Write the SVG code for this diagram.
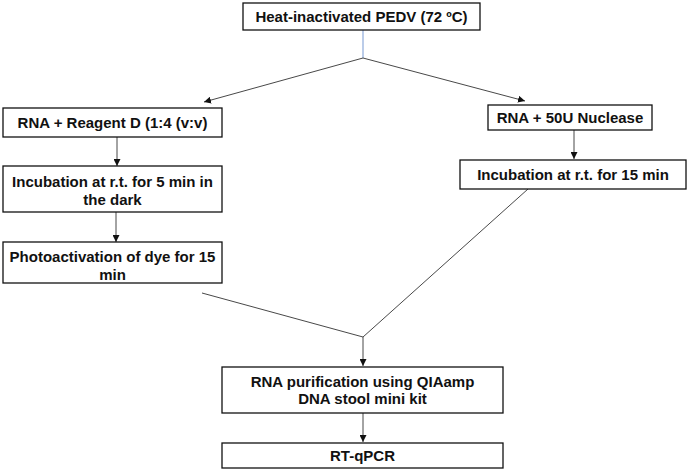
<svg xmlns="http://www.w3.org/2000/svg" width="689" height="472" viewBox="0 0 689 472">
<defs>
<marker id="ah" viewBox="0 0 10 10" refX="10" refY="5" markerWidth="7" markerHeight="7" markerUnits="userSpaceOnUse" orient="auto">
<path d="M0,0 L10,5 L0,10 Z" fill="#111"/>
</marker>
<style>
.box{fill:#fff;stroke:#111;stroke-width:1.3}
.t{font-family:"Liberation Sans",Arial,sans-serif;font-weight:bold;font-size:15px;fill:#111;text-anchor:middle}
.c{fill:none;stroke:#333;stroke-width:0.9}
.a{marker-end:url(#ah)}
</style>
</defs>
<rect width="689" height="472" fill="#fff"/>
<g id="connectors">
<line x1="363" y1="30" x2="363" y2="58" stroke="#8eaadb" stroke-width="1.2"/>
<line class="c a" x1="363" y1="58" x2="204" y2="102"/>
<line class="c a" x1="363" y1="58" x2="525" y2="101"/>
<line class="c a" x1="117" y1="137" x2="117" y2="166"/>
<line class="c a" x1="116" y1="212" x2="116" y2="242"/>
<line class="c a" x1="574" y1="130" x2="574" y2="159"/>
<line class="c" x1="202" y1="293" x2="363" y2="337"/>
<line class="c" x1="528" y1="189" x2="363" y2="337"/>
<line class="c a" x1="363" y1="337" x2="363" y2="366"/>
<line class="c a" x1="363" y1="413" x2="363" y2="442"/>
</g>
<g id="n1"><rect class="box" x="243" y="3" width="237" height="27"/><text class="t" x="361.5" y="22">Heat-inactivated PEDV (72 ºC)</text></g>
<g id="n2"><rect class="box" x="3" y="108" width="219" height="29"/><text class="t" x="112.5" y="128">RNA + Reagent D (1:4 (v:v)</text></g>
<g id="n3"><rect class="box" x="3" y="166" width="219" height="46"/><text class="t" x="112.5" y="187">Incubation at r.t. for 5 min in</text><text class="t" x="112.5" y="205">the dark</text></g>
<g id="n4"><rect class="box" x="3" y="242" width="219" height="41"/><text class="t" x="112.5" y="262">Photoactivation of dye for 15</text><text class="t" x="112.5" y="280">min</text></g>
<g id="n5"><rect class="box" x="488" y="105" width="164" height="25"/><text class="t" x="570" y="123">RNA + 50U Nuclease</text></g>
<g id="n6"><rect class="box" x="460" y="160" width="226" height="29"/><text class="t" x="573" y="180">Incubation at r.t. for 15 min</text></g>
<g id="n7"><rect class="box" x="222" y="367" width="281" height="46"/><text class="t" x="362.5" y="387">RNA purification using QIAamp</text><text class="t" x="362.5" y="404">DNA stool mini kit</text></g>
<g id="n8"><rect class="box" x="222" y="443" width="281" height="25"/><text class="t" x="362.5" y="461">RT-qPCR</text></g>
</svg>
